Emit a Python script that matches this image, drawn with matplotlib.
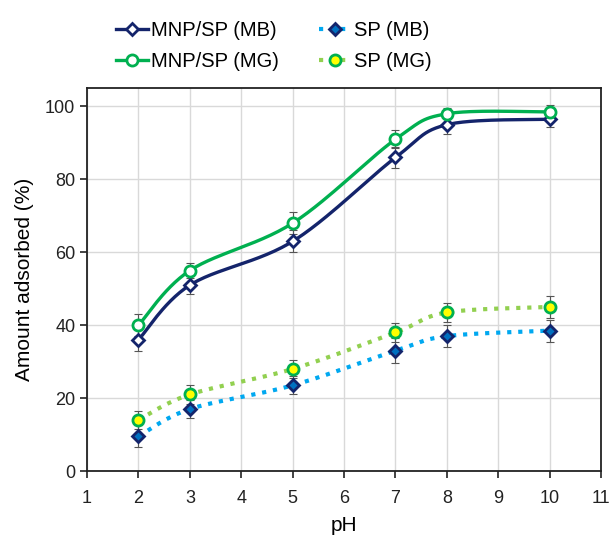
import numpy as np
import matplotlib.pyplot as plt

plt.rcParams['font.family'] = ['Liberation Sans', 'DejaVu Sans']

# data
ph = [2, 3, 5, 7, 8, 10]
mnp_mb = [36, 51, 63, 86, 95, 96.5]
mnp_mg = [40, 55, 68, 91, 98, 98.5]
sp_mb = [9.5, 17, 23.5, 33, 37, 38.5]
sp_mg = [14, 21, 28, 38, 43.5, 45]
err_mnp_mb = [3, 2.5, 3, 3, 2.5, 2]
err_mnp_mg = [3, 2, 3, 2.5, 1.5, 2]
err_sp_mb = [3, 2.5, 2.5, 3.5, 3, 3]
err_sp_mg = [2.5, 2.5, 2.5, 2.5, 2.5, 3]


# Excel-like smoothed line (Catmull-Rom through the points)
def smooth(x, y, n=30):
    x = np.asarray(x, float)
    y = np.asarray(y, float)
    px = np.concatenate([[x[0]], x, [x[-1]]])
    py = np.concatenate([[y[0]], y, [y[-1]]])
    xs, ys = [], []
    for i in range(1, len(px) - 2):
        t = np.linspace(0, 1, n)
        for arr, out in ((px, xs), (py, ys)):
            p0, p1, p2, p3 = arr[i - 1], arr[i], arr[i + 1], arr[i + 2]
            m1 = (p2 - p0) / 2
            m2 = (p3 - p1) / 2
            h00 = 2 * t**3 - 3 * t**2 + 1
            h10 = t**3 - 2 * t**2 + t
            h01 = -2 * t**3 + 3 * t**2
            h11 = t**3 - t**2
            out.extend(h00 * p1 + h10 * m1 + h01 * p2 + h11 * m2)
    return np.array(xs), np.array(ys)


fig = plt.figure(figsize=(6.09, 5.38), dpi=100)
ax = fig.add_axes([0.143, 0.1245, 0.844, 0.7115])

series = [
    ("MNP/SP (MB)", mnp_mb, err_mnp_mb, "#14246b", "-", "D", "white", "#14246b", 6.5),
    ("MNP/SP (MG)", mnp_mg, err_mnp_mg, "#00b050", "-", "o", "white", "#00b050", 8),
    ("SP (MB)", sp_mb, err_sp_mb, "#00a8f0", ":", "D", "#0070c0", "#14246b", 6.5),
    ("SP (MG)", sp_mg, err_sp_mg, "#92d050", ":", "o", "#ffff00", "#00b050", 8),
]

handles = []
for label, vals, err, lc, ls, mk, mfc, mec, ms in series:
    lw = 2.4 if ls == "-" else 3
    sx, sy = smooth(ph, vals)
    ax.plot(sx, sy, color=lc, ls=ls, lw=lw, zorder=2)
    ax.errorbar(ph, vals, yerr=err, fmt="none", ecolor="#555555", elinewidth=0.8,
                capsize=3, capthick=0.8, zorder=3)
    ax.plot(ph, vals, ls="none", marker=mk, ms=ms, mfc=mfc, mec=mec, mew=2, zorder=4)
    h, = ax.plot([], [], color=lc, ls=ls, lw=lw,
                 marker=mk, ms=ms, mfc=mfc, mec=mec, mew=2, label=label)
    handles.append(h)

ax.set_xlim(1, 11)
ax.set_ylim(0, 105)
ax.set_xticks(range(1, 12))
ax.set_yticks(range(0, 101, 20))
ax.grid(True, color="#d9d9d9", lw=1)
ax.set_axisbelow(True)
for s in ax.spines.values():
    s.set_color("#222222")
    s.set_linewidth(1.3)
ax.tick_params(direction="out", length=5, width=1.2, labelsize=13, colors="#222222")
ax.tick_params(axis="x", pad=9)
ax.set_xlabel("pH", fontsize=15, labelpad=6)
ax.set_ylabel("Amount adsorbed (%)", fontsize=15, labelpad=8)

fig.legend(handles=handles, ncol=2, loc="upper left", bbox_to_anchor=(0.16, 0.995),
           frameon=False, fontsize=14.5, handlelength=1.6, handletextpad=0.15,
           columnspacing=2.0, labelspacing=0.6)

fig.savefig("out.png", dpi=100)
